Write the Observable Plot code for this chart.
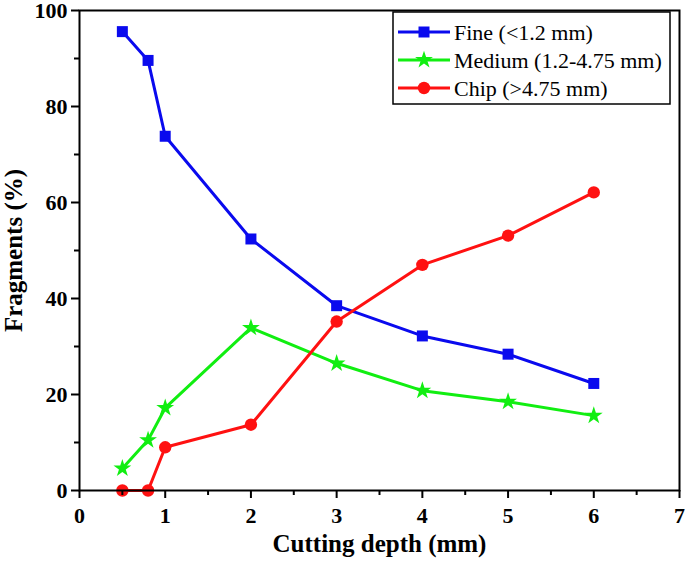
<!DOCTYPE html>
<html><head><meta charset="utf-8">
<script src="https://cdn.jsdelivr.net/npm/d3@7"></script>
<script src="https://cdn.jsdelivr.net/npm/@observablehq/plot@0.6"></script>
<style>body{margin:0;background:#fff}</style>
</head><body><div id="chart"></div>
<script>
const depths = [0.5, 0.8, 1, 2, 3, 4, 5, 6];
const fine = [95.6, 89.6, 73.8, 52.4, 38.5, 32.2, 28.4, 22.3];
const medium = [4.6, 10.5, 17.2, 33.9, 26.5, 20.8, 18.5, 15.6];
const chip = [0, 0, 9.0, 13.7, 35.2, 47.0, 53.1, 62.1];
const seriesNames = ["Fine (<1.2 mm)", "Medium (1.2-4.75 mm)", "Chip (>4.75 mm)"];
const seriesColors = ["#0a0aee", "#11ee11", "#ff1111"];
const seriesSymbols = ["square", "star", "circle"];
const xTicks = [0, 1, 2, 3, 4, 5, 6, 7];
const yTicks = [0, 20, 40, 60, 80, 100];
const xMinor = [0.5, 1.5, 2.5, 3.5, 4.5, 5.5, 6.5];
const yMinor = [10, 30, 50, 70, 90];
const xTitle = "Cutting depth (mm)";
const yTitle = "Fragments (%)";
const FONT = "Liberation Serif";

const all = [fine, medium, chip];
const rows = [];
all.forEach((vals, s) => vals.forEach((v, i) => rows.push({series: seriesNames[s], x: depths[i], y: v, s})));
const symR = [6.2, 5.6, 6.2];

const marks = [];
all.forEach((vals, s) => {
  const data = rows.filter(r => r.s === s);
  marks.push(Plot.line(data, {x: "x", y: "y", stroke: seriesColors[s], strokeWidth: 3}));
});
all.forEach((vals, s) => {
  const data = rows.filter(r => r.s === s);
  marks.push(Plot.dot(data, {x: "x", y: "y", fill: seriesColors[s], stroke: "none", symbol: () => seriesSymbols[s], r: symR[s]}));
});

const plot = Plot.plot({
  width: 685, height: 572,
  marginLeft: 79, marginRight: 6, marginTop: 10, marginBottom: 82,
  style: {fontFamily: FONT, fontSize: "22px", fontWeight: "bold", color: "#000", background: "#fff"},
  x: {domain: [0, 7]},
  y: {domain: [0, 100]},
  marks: [
    ...marks,
    Plot.frame({stroke: "#000", strokeWidth: 2}),
    Plot.axisX({ticks: xTicks, tickFormat: d => String(d), fontSize: 22, fontFamily: FONT, fontWeight: "bold", tickSize: 8, tickPadding: 9, strokeWidth: 2, label: null}),
    Plot.axisX({ticks: xMinor, tickSize: 5, strokeWidth: 2, text: null, label: null}),
    Plot.axisY({ticks: yTicks, tickFormat: d => String(d), fontSize: 22, fontFamily: FONT, fontWeight: "bold", tickSize: 8, tickPadding: 4, strokeWidth: 2, label: null}),
    Plot.axisY({ticks: yMinor, tickSize: 5, strokeWidth: 2, text: null, label: null}),
    Plot.text([xTitle], {text: d => d, frameAnchor: "bottom", textAnchor: "middle", lineAnchor: "middle", dy: 53, fontSize: 25, fontFamily: FONT, fontWeight: "bold"}),
    Plot.text([yTitle], {text: d => d, frameAnchor: "left", textAnchor: "middle", lineAnchor: "middle", dx: -66, rotate: -90, fontSize: 25, fontFamily: FONT, fontWeight: "bold"})
  ]
});
document.getElementById("chart").appendChild(plot);

// legend
const svg = d3.select(plot);
const lg = svg.append("g").attr("transform", "translate(393,12)");
lg.append("rect").attr("width", 277).attr("height", 92).attr("fill", "#fff").attr("stroke", "#000").attr("stroke-width", 1.5);
seriesNames.forEach((name, i) => {
  const yy = 20 + i * 28;
  lg.append("line").attr("x1", 5).attr("x2", 57).attr("y1", yy).attr("y2", yy).attr("stroke", seriesColors[i]).attr("stroke-width", 3);
  const sym = {square: d3.symbolSquare, star: d3.symbolStar, circle: d3.symbolCircle}[seriesSymbols[i]];
  const r = symR[i];
  lg.append("path").attr("d", d3.symbol(sym, Math.PI * r * r)()).attr("transform", `translate(31,${yy})`).attr("fill", seriesColors[i]);
  lg.append("text").attr("x", 61).attr("y", yy).attr("dy", "0.35em").attr("text-anchor", "start")
    .attr("font-family", FONT).attr("font-weight", "normal").attr("font-size", "22px").text(name);
});
</script></body></html>
